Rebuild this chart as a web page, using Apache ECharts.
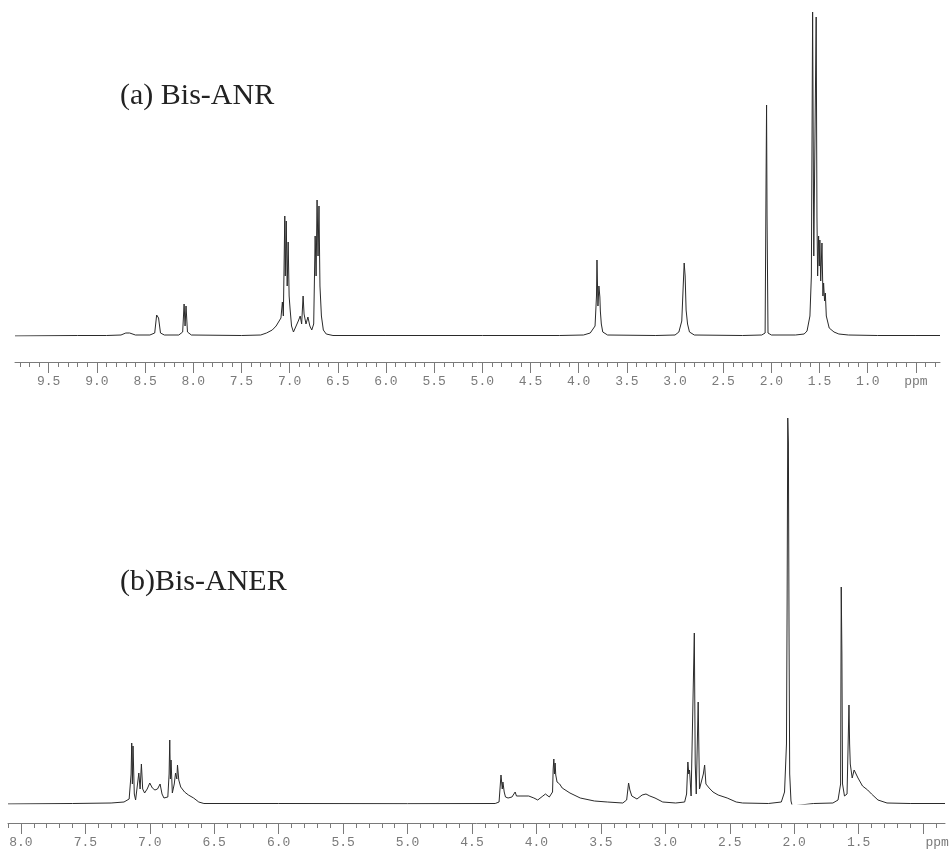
<!DOCTYPE html>
<html>
<head>
<meta charset="utf-8">
<script src="https://cdn.jsdelivr.net/npm/echarts@6/dist/echarts.min.js"></script>
<style>
html,body{margin:0;padding:0;background:#fff;}
#chart{width:950px;height:853px;}
</style>
</head>
<body>
<div id="chart"></div>
<script>
// ---- Data: [chemical shift (ppm), intensity above baseline] ----
var titleA = '(a) Bis-ANR';
var titleB = '(b)Bis-ANER';

var specA = [
  [9.85,0],[9.2,0.5],[8.9,0.5],[8.75,1],[8.70,3],[8.66,3],[8.60,1],[8.45,1],[8.40,3],[8.38,21],[8.36,18],[8.34,3],[8.30,1],
  [8.15,1],[8.11,4],[8.095,32],[8.085,10],[8.075,30],[8.06,4],[8.02,1],[7.5,0.5],[7.30,1],[7.24,3],[7.18,6],[7.14,10],[7.12,9],
  [7.09,18],[7.075,34],[7.065,20],[7.05,120],[7.045,60],[7.035,115],[7.025,50],[7.015,94],[7.005,40],[6.995,27],[6.98,10],
  [6.96,4],[6.94,6],[6.91,15],[6.89,20],[6.875,12],[6.86,40],[6.85,22],[6.83,12],[6.81,19],[6.79,10],[6.77,6],[6.75,12],
  [6.735,100],[6.725,60],[6.715,136],[6.705,80],[6.695,130],[6.685,50],[6.67,20],[6.65,6],[6.62,2],[6.55,0.5],[6.0,0.5],
  [5.0,0.5],[4.2,0.5],[3.95,1],[3.88,3],[3.83,10],[3.815,40],[3.81,76],[3.80,30],[3.79,50],[3.78,39],[3.775,25],[3.765,12],
  [3.75,4],[3.70,1],[3.2,0.5],[3.0,1],[2.96,4],[2.93,15],[2.915,50],[2.905,73],[2.895,60],[2.885,26],[2.87,12],[2.85,4],
  [2.80,1],[2.3,0.5],[2.10,1],[2.065,3],[2.055,161],[2.05,231],[2.045,120],[2.035,3],[2.00,1],[1.75,1],[1.66,2],[1.63,5],
  [1.60,20],[1.585,60],[1.572,324],[1.56,80],[1.535,319],[1.527,119],[1.52,60],[1.51,100],[1.503,70],[1.497,96],[1.488,55],
  [1.475,93],[1.465,40],[1.458,53],[1.448,35],[1.44,43],[1.43,20],[1.40,8],[1.35,4],[1.30,2],[1.2,1],[0.9,0.5],[0.5,0.5],[0.25,0.5]
];

var specB = [
  [8.1,0],[7.6,0.5],[7.3,1],[7.20,2],[7.16,5],[7.145,30],[7.14,61],[7.135,20],[7.13,58],[7.12,10],[7.11,4],[7.095,20],
  [7.085,31],[7.075,15],[7.065,40],[7.055,15],[7.04,11],[7.02,15],[7.00,21],[6.98,16],[6.96,14],[6.94,15],[6.92,20],
  [6.905,10],[6.89,6],[6.86,7],[6.85,30],[6.845,64],[6.84,25],[6.835,44],[6.825,11],[6.81,20],[6.80,31],[6.79,25],
  [6.785,39],[6.775,24],[6.76,17],[6.73,12],[6.70,9],[6.66,6],[6.62,2],[6.58,0.5],[6.0,0.5],[5.0,0.3],[4.32,0.5],[4.29,2],
  [4.275,29],[4.265,15],[4.26,22],[4.25,12],[4.24,7],[4.22,6],[4.19,7],[4.165,12],[4.155,8],[4.12,8],[4.06,8],[4.02,6],
  [3.99,4],[3.95,8],[3.93,10],[3.90,7],[3.875,12],[3.87,35],[3.865,45],[3.86,30],[3.855,41],[3.85,29],[3.84,22],[3.82,20],
  [3.80,16],[3.74,11],[3.66,6],[3.55,3],[3.45,2],[3.33,1],[3.30,4],[3.285,21],[3.275,14],[3.26,8],[3.22,5],[3.18,9],
  [3.15,10],[3.12,8],[3.08,6],[3.02,2],[2.92,1],[2.85,2],[2.835,10],[2.825,42],[2.818,30],[2.812,34],[2.80,8],[2.79,10],
  [2.775,171],[2.768,40],[2.76,10],[2.745,102],[2.735,15],[2.72,14],[2.705,30],[2.695,39],[2.685,20],[2.66,16],[2.63,12],
  [2.59,9],[2.52,6],[2.45,2],[2.40,1],[2.2,0.5],[2.10,2],[2.075,12],[2.06,60],[2.055,200],[2.05,386],[2.045,361],[2.04,167],
  [2.035,30],[2.025,3],[2.015,-2],[2.0,0],[1.85,0.5],[1.70,1],[1.66,4],[1.64,20],[1.635,217],[1.63,150],[1.625,20],
  [1.61,8],[1.59,10],[1.575,99],[1.57,60],[1.565,40],[1.55,26],[1.535,34],[1.52,36],[1.505,26],[1.47,18],[1.43,14],
  [1.40,10],[1.35,4],[1.28,1],[1.1,0.5],[0.83,0.5]
];

// ---- Axis ticks / labels ----
var ticksA = [9.5,9.0,8.5,8.0,7.5,7.0,6.5,6.0,5.5,5.0,4.5,4.0,3.5,3.0,2.5,2.0,1.5,1.0,0.5];
var ticksB = [8.0,7.5,7.0,6.5,6.0,5.5,5.0,4.5,4.0,3.5,3.0,2.5,2.0,1.5,1.0];
var unitLabel = 'ppm';
var unitTickA = 0.5, unitTickB = 1.0;

function minorTicks(lo, hi) {
  var out = [];
  for (var k = Math.ceil(lo * 10); k <= Math.floor(hi * 10); k++) out.push(k / 10);
  return out;
}

var axisGray = '#7a7a7a';

function majorAxis(grid, lo, hi, off, ticks, unitTick, shift) {
  return {
    type: 'value', gridIndex: grid, position: 'bottom', inverse: true, min: lo, max: hi, offset: off,
    splitLine: {show: false},
    axisLine: {show: true, onZero: false, lineStyle: {color: axisGray, width: 1}},
    axisTick: {show: true, customValues: ticks, length: 11, lineStyle: {color: axisGray}},
    axisLabel: {
      show: true, customValues: ticks, hideOverlap: false,
      fontFamily: 'Liberation Mono', fontSize: 13, color: '#7a7a7a', margin: 13,
      formatter: function (v) {
        if (Math.abs(v - unitTick) < 1e-6) return '{p|' + unitLabel + '}';
        return v.toFixed(1);
      },
      rich: {p: {padding: [0, 0, 0, shift], fontFamily: 'Liberation Mono', fontSize: 13, color: '#7a7a7a'}}
    }
  };
}
function minorAxis(grid, lo, hi, off) {
  return {
    type: 'value', gridIndex: grid, position: 'bottom', inverse: true, min: lo, max: hi, offset: off,
    splitLine: {show: false},
    axisLine: {show: false, onZero: false},
    axisTick: {show: true, customValues: minorTicks(lo, hi), length: 5, lineStyle: {color: axisGray}},
    axisLabel: {show: false}
  };
}

var chart = echarts.init(document.getElementById('chart'), null, {renderer: 'canvas'});
chart.setOption({
  animation: false,
  backgroundColor: '#ffffff',
  title: [
    {text: titleA, left: 115, top: 76,
     textStyle: {fontFamily: 'Liberation Serif', fontSize: 30, fontWeight: 'normal', color: '#222'}},
    {text: titleB, left: 115, top: 562,
     textStyle: {fontFamily: 'Liberation Serif', fontSize: 30, fontWeight: 'normal', color: '#222'}}
  ],
  grid: [
    {left: 15, right: 10, top: 12, bottom: 517, containLabel: false, outerBoundsMode: 'none'},
    {left: 8, right: 5, top: 414, bottom: 49, containLabel: false, outerBoundsMode: 'none'}
  ],
  xAxis: [
    majorAxis(0, 0.25, 9.85, 26, ticksA, unitTickA, 0),
    majorAxis(1, 0.83, 8.1, 19, ticksB, unitTickB, 28),
    minorAxis(0, 0.25, 9.85, 26),
    minorAxis(1, 0.83, 8.1, 19)
  ],
  yAxis: [
    {type: 'value', gridIndex: 0, min: 0, max: 324, show: false},
    {type: 'value', gridIndex: 1, min: 0, max: 390, show: false}
  ],
  series: [
    {type: 'line', xAxisIndex: 0, yAxisIndex: 0, data: specA, showSymbol: false, silent: true,
     lineStyle: {color: '#2a2a2a', width: 1}},
    {type: 'line', xAxisIndex: 1, yAxisIndex: 1, data: specB, showSymbol: false, silent: true,
     lineStyle: {color: '#2a2a2a', width: 1}}
  ]
});
</script>
</body>
</html>
